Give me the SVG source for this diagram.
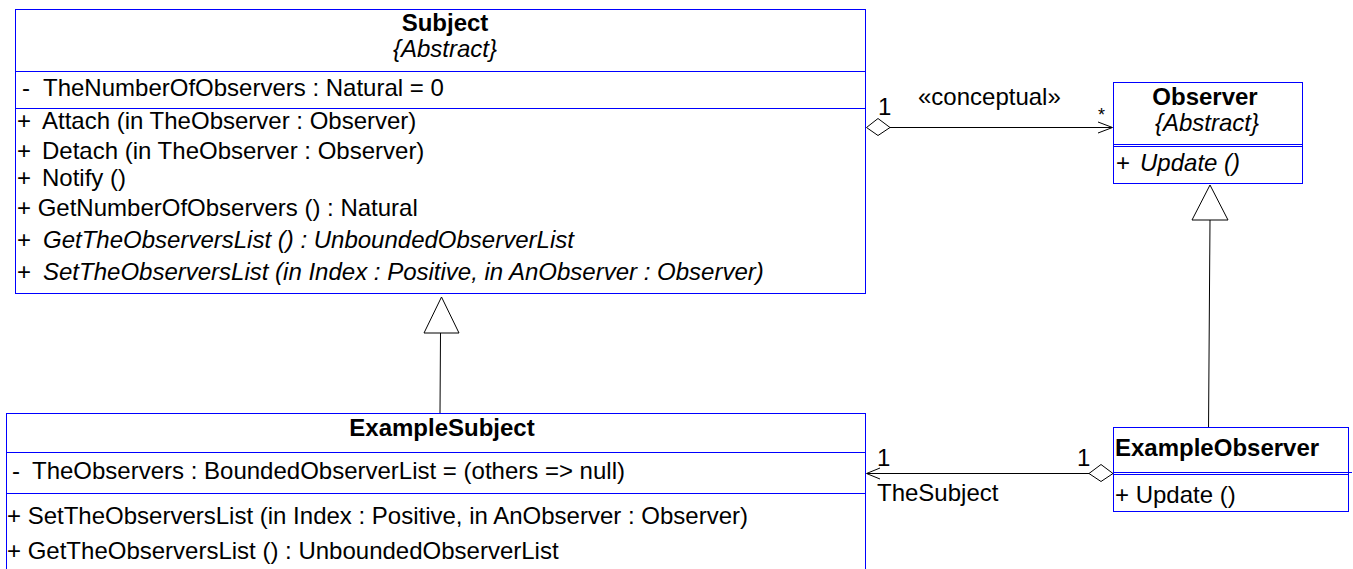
<svg xmlns="http://www.w3.org/2000/svg" width="1353" height="569" viewBox="0 0 1353 569">
<style>
.box{fill:#fff;stroke:#0000ff;stroke-width:1}
.sep{stroke:#0000ff;stroke-width:1;fill:none}
text{font-family:"Liberation Sans",Arial,sans-serif;font-size:24px;fill:#000}
.b{font-weight:bold}
.i{font-style:italic}
.m{text-anchor:middle}
.ln{stroke:#000;stroke-width:1;fill:none}
.hol{stroke:#000;stroke-width:1;fill:#fff}
</style>
<rect width="1353" height="569" fill="#fff"/>
<g id="connectors">
  <line class="ln" x1="890" y1="127.5" x2="1112" y2="127.5"/>
  <polyline class="ln" points="1098,122 1112.5,127.5 1098,133"/>
  <polygon class="hol" points="866.5,127.5 878,118.5 890,127.5 878,135.5"/>
  <text x="878" y="115">1</text>
  <text x="918" y="105">«conceptual»</text>
  <text x="1098" y="121" style="font-size:18px">*</text>
  <line class="ln" x1="1210" y1="220" x2="1208.5" y2="431"/>
  <polygon class="hol" points="1210,185 1192,220 1228,220"/>
  <line class="ln" x1="440.5" y1="333" x2="440" y2="413"/>
  <polygon class="hol" points="441.5,297 424,333 459,333"/>
  <line class="ln" x1="867" y1="473.5" x2="1089" y2="473.5"/>
  <polyline class="ln" points="880,468 866.5,473.5 880,479"/>
  <polygon class="hol" points="1089,473.5 1101,464.5 1113,473.5 1101,481.5"/>
  <text x="877" y="466">1</text>
  <text x="1077" y="466">1</text>
  <text x="877" y="501">TheSubject</text>
</g>
<g id="Subject">
  <rect class="box" x="15.5" y="9.5" width="850" height="284"/>
  <line class="sep" x1="15.5" y1="71.5" x2="865.5" y2="71.5"/>
  <line class="sep" x1="15.5" y1="108.5" x2="865.5" y2="108.5"/>
  <text class="b m" x="445" y="31">Subject</text>
  <text class="i m" x="445" y="57">{Abstract}</text>
  <text x="22" y="96">-</text>
  <text x="43" y="96">TheNumberOfObservers : Natural = 0</text>
  <text x="17" y="129">+</text><text x="42" y="129">Attach (in TheObserver : Observer)</text>
  <text x="17" y="159">+</text><text x="42" y="159">Detach (in TheObserver : Observer)</text>
  <text x="17" y="186">+</text><text x="42" y="186">Notify ()</text>
  <text x="17" y="216">+ GetNumberOfObservers () : Natural</text>
  <text x="17" y="248">+</text><text class="i" x="43" y="248">GetTheObserversList () : UnboundedObserverList</text>
  <text x="17" y="280">+</text><text class="i" x="43" y="280">SetTheObserversList (in Index : Positive, in AnObserver : Observer)</text>
</g>
<g id="Observer">
  <rect class="box" x="1113.5" y="82.5" width="189" height="101"/>
  <line class="sep" x1="1113.5" y1="144.5" x2="1302.5" y2="144.5"/>
  <line class="sep" x1="1113.5" y1="146.5" x2="1302.5" y2="146.5"/>
  <text class="b m" x="1205" y="105">Observer</text>
  <text class="i m" x="1207" y="131">{Abstract}</text>
  <text x="1116" y="171">+</text><text class="i" x="1140" y="171">Update ()</text>
</g>
<g id="ExampleSubject">
  <rect class="box" x="6.5" y="413.5" width="859" height="200"/>
  <line class="sep" x1="6.5" y1="452.5" x2="865.5" y2="452.5"/>
  <line class="sep" x1="6.5" y1="493.5" x2="865.5" y2="493.5"/>
  <text class="b m" x="442" y="436">ExampleSubject</text>
  <text x="12" y="479">-</text>
  <text x="32" y="479">TheObservers : BoundedObserverList = (others =&gt; null)</text>
  <text x="7" y="524">+ SetTheObserversList (in Index : Positive, in AnObserver : Observer)</text>
  <text x="7" y="559">+ GetTheObserversList () : UnboundedObserverList</text>
</g>
<g id="ExampleObserver">
  <rect class="box" x="1113.5" y="427.5" width="235" height="84"/>
  <line class="sep" x1="1113.5" y1="472.5" x2="1352" y2="472.5"/>
  <line class="sep" x1="1113.5" y1="474.5" x2="1348.5" y2="474.5"/>
  <text class="b" x="1115" y="456">ExampleObserver</text>
  <text x="1115" y="503">+ Update ()</text>
</g>
</svg>
